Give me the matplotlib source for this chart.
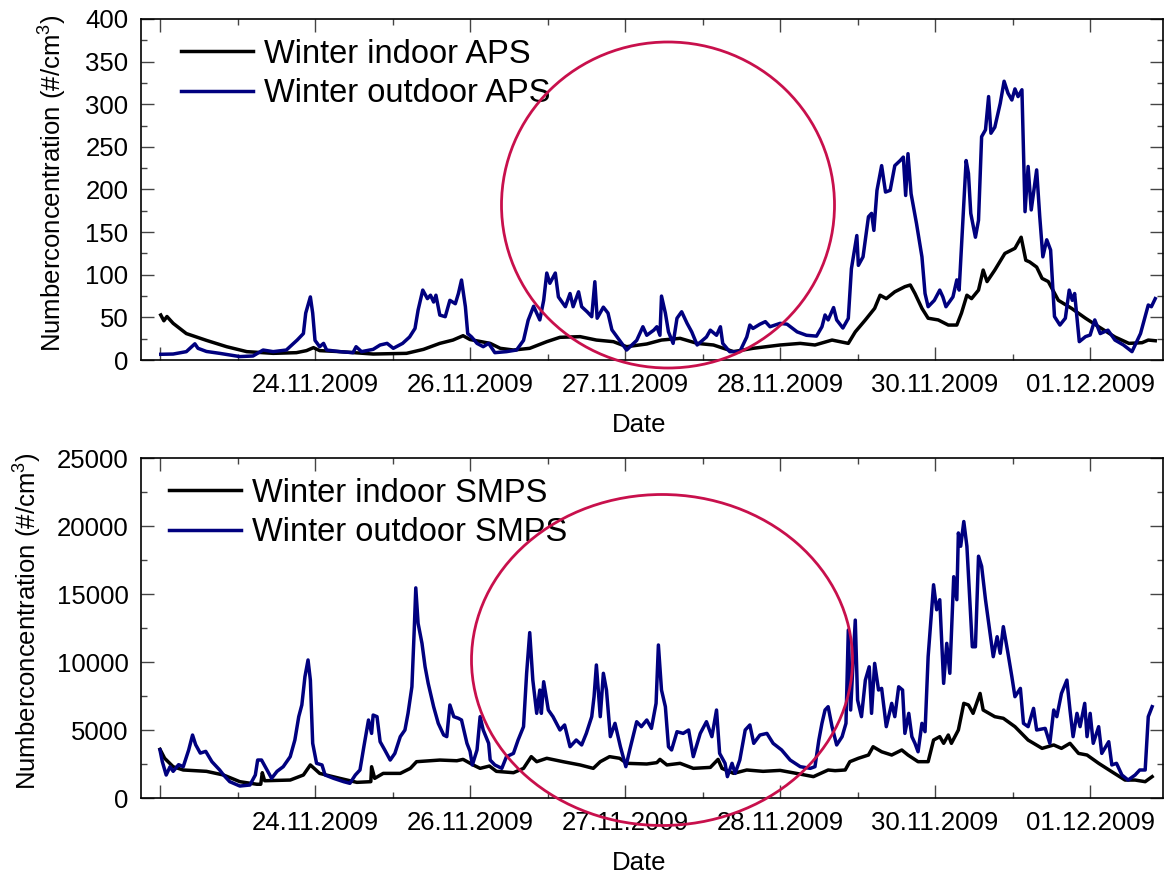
import matplotlib
matplotlib.use('Agg')
import numpy as np
import matplotlib.pyplot as plt
from matplotlib.patches import Ellipse
from matplotlib.ticker import MultipleLocator, FixedLocator

plt.rcParams['font.family'] = ['Liberation Sans', 'DejaVu Sans']
plt.rcParams['mathtext.default'] = 'regular'

# x positions are in tick units (one minor tick = 1)
tick_pos = [0, 2, 4, 6, 8, 10, 12]
tick_labels = ['', '24.11.2009', '26.11.2009', '27.11.2009', '28.11.2009', '30.11.2009', '01.12.2009']

# APS outdoor
aps_out_x = [0.01, 0.17, 0.34, 0.45, 0.49, 0.60, 0.77, 1.03, 1.20, 1.33, 1.46, 1.63, 1.77, 1.85, 1.88, 1.94, 1.97,
             2.00, 2.06, 2.11, 2.15, 2.32, 2.49, 2.53, 2.60, 2.75, 2.84, 2.93, 3.01, 3.13, 3.22, 3.29, 3.33, 3.39,
             3.45, 3.49, 3.53, 3.56, 3.61, 3.68, 3.74, 3.81, 3.85, 3.89, 3.94, 3.97, 4.02, 4.09, 4.17, 4.24, 4.32,
             4.47, 4.60, 4.69, 4.75, 4.82, 4.90, 4.95, 4.99, 5.03, 5.10, 5.14, 5.23, 5.29, 5.33, 5.40, 5.44, 5.51,
             5.57, 5.61, 5.64, 5.72, 5.78, 5.83, 5.91, 6.02, 6.15, 6.23, 6.28, 6.37, 6.41, 6.45, 6.47, 6.52, 6.56,
             6.62, 6.67, 6.73, 6.80, 6.86, 6.93, 7.05, 7.10, 7.18, 7.23, 7.26, 7.35, 7.48, 7.57, 7.61, 7.65, 7.74,
             7.81, 7.87, 8.00, 8.09, 8.22, 8.34, 8.47, 8.54, 8.58, 8.62, 8.69, 8.73, 8.81, 8.88, 8.92, 8.99, 9.01,
             9.07, 9.14, 9.18, 9.21, 9.25, 9.31, 9.36, 9.42, 9.48, 9.55, 9.59, 9.62, 9.65, 9.69, 9.76, 9.83, 9.87,
             9.91, 9.99, 10.06, 10.10, 10.14, 10.23, 10.28, 10.31, 10.34, 10.40, 10.43, 10.46, 10.52, 10.56, 10.60,
             10.65, 10.69, 10.72, 10.77, 10.84, 10.89, 10.94, 10.99, 11.03, 11.07, 11.12, 11.16, 11.20, 11.24,
             11.31, 11.35, 11.39, 11.44, 11.49, 11.54, 11.61, 11.68, 11.73, 11.77, 11.80, 11.86, 11.94, 12.00,
             12.06, 12.13, 12.23, 12.32, 12.43, 12.54, 12.65, 12.75, 12.79, 12.84]
aps_out_y = [6.7, 7, 9.8, 19, 13.7, 10, 7.8, 4, 4.7, 11.7, 9.8, 11.7, 23.4, 31, 55, 74, 55,
             23, 15.6, 19.5, 11.7, 9.8, 8.6, 15.6, 9.8, 12.5, 17.6, 19.5, 13.7, 19.5, 27, 37, 58.6, 82,
             72, 76, 68, 76, 52.7, 50.8, 70, 66, 78, 93.8, 62.5, 31, 27, 19.5, 15.6, 19.5, 8.6,
             9.8, 11.7, 23, 46.7, 63, 47, 70, 102, 90, 102, 74, 62.5, 78, 62.5, 80, 62.5, 56.6,
             50.8, 91.8, 49, 62, 55, 35.4, 25.5, 11.7, 23, 39, 29, 35, 39, 29, 75, 55, 33,
             19.5, 49, 56.6, 43, 33, 17.6, 27, 35, 29, 39, 19.5, 9.8, 9.8, 27, 41, 37, 42,
             45, 39, 43, 42, 33, 29, 28, 39, 52.8, 47, 61.5, 47, 37.5, 48.8, 107, 146, 111,
             121, 168, 172, 152, 199, 228, 197, 199, 228, 234, 238, 193, 242, 195, 160, 121, 78,
             62.5, 70, 82, 74, 62.5, 74, 94, 82, 133, 234, 219, 172, 144, 164, 262,
             270, 309, 266, 273, 301, 327, 313, 305, 318, 309, 317, 174, 227, 176,
             223, 168, 121, 141, 129, 51, 41, 49, 82, 70, 78, 21.5, 27.4, 29.3,
             47, 31, 35, 23.4, 17.6, 9.8, 31, 64.5, 62.5, 72]

# APS indoor
aps_in_x = [0.01, 0.05, 0.09, 0.17, 0.34, 0.60, 0.86, 1.12, 1.46, 1.76, 1.89, 1.98, 2.06, 2.32, 2.75, 3.18, 3.40,
            3.61, 3.78, 3.91, 4.00, 4.26, 4.39, 4.56, 4.77, 4.99, 5.16, 5.42, 5.63, 5.85, 6.02, 6.28, 6.47, 6.71,
            6.93, 7.14, 7.40, 7.65, 8.00, 8.26, 8.45, 8.67, 8.88, 8.97, 9.10, 9.22, 9.29, 9.37, 9.48, 9.61, 9.68,
            9.74, 9.83, 9.91, 10.04, 10.17, 10.28, 10.34, 10.41, 10.47, 10.56, 10.62, 10.67, 10.77, 10.90, 11.03,
            11.11, 11.17, 11.22, 11.31, 11.38, 11.46, 11.59, 11.76, 11.94, 12.11, 12.32, 12.50, 12.67, 12.75, 12.84]
aps_in_y = [52.8, 46, 51, 43, 31, 23, 15.6, 9.8, 7.8, 8.6, 11, 14.5, 11, 9.8, 7, 7.8, 12.5,
            19.5, 23.4, 28.5, 24, 19.5, 13.7, 11.7, 13.7, 21.5, 26.6, 27.4, 23.4, 21.5, 15.6, 18.8, 23.4, 25.4,
            19.5, 17.6, 9.8, 13.7, 17.6, 19.5, 17.6, 23.4, 19.5, 33, 47, 60.6, 76, 72, 80, 86, 88,
            78, 60.6, 49, 47, 41, 41, 55, 76, 72, 82, 105.5, 92, 105.5, 125, 131,
            144, 117, 115, 109, 95.7, 92, 70, 60.6, 49, 39, 27, 19.5, 20.3, 23.4, 22.6]

# SMPS outdoor
smps_out_x = [0.00, 0.03, 0.08, 0.13, 0.17, 0.24, 0.30, 0.37, 0.42, 0.46, 0.52, 0.59, 0.67, 0.77, 0.82, 0.90,
              1.03, 1.16, 1.23, 1.26, 1.31, 1.38, 1.44, 1.51, 1.59, 1.68, 1.74, 1.79, 1.83, 1.87, 1.91, 1.94,
              1.97, 2.02, 2.09, 2.13, 2.24, 2.37, 2.45, 2.52, 2.58, 2.63, 2.69, 2.73, 2.75, 2.80, 2.84, 2.90,
              2.97, 3.03, 3.10, 3.16, 3.20, 3.25, 3.28, 3.30, 3.33, 3.38, 3.42, 3.46, 3.53, 3.59, 3.66, 3.70,
              3.74, 3.79, 3.85, 3.89, 3.96, 4.00, 4.03, 4.09, 4.13, 4.17, 4.24, 4.26, 4.32, 4.41, 4.47, 4.56,
              4.62, 4.69, 4.73, 4.77, 4.81, 4.86, 4.90, 4.92, 4.95, 5.01, 5.07, 5.16, 5.22, 5.29, 5.37, 5.44,
              5.50, 5.57, 5.60, 5.63, 5.68, 5.72, 5.76, 5.81, 5.87, 5.94, 6.01, 6.06, 6.15, 6.21, 6.28, 6.34,
              6.40, 6.43, 6.47, 6.52, 6.56, 6.60, 6.67, 6.75, 6.82, 6.88, 6.97, 7.05, 7.12, 7.18, 7.22, 7.29,
              7.32, 7.38, 7.42, 7.48, 7.55, 7.61, 7.66, 7.74, 7.83, 7.91, 8.02, 8.13, 8.26, 8.39, 8.45, 8.50,
              8.54, 8.58, 8.62, 8.67, 8.73, 8.80, 8.85, 8.88, 8.91, 8.97, 9.00, 9.05, 9.10, 9.15, 9.18, 9.22,
              9.27, 9.31, 9.37, 9.44, 9.48, 9.53, 9.58, 9.61, 9.66, 9.70, 9.74, 9.78, 9.83, 9.87, 9.91, 9.98,
              10.02, 10.06, 10.11, 10.15, 10.19, 10.24, 10.28, 10.30, 10.33, 10.37, 10.41, 10.45, 10.48, 10.52,
              10.56, 10.60, 10.65, 10.71, 10.75, 10.80, 10.84, 10.88, 10.94, 10.99, 11.03, 11.10, 11.14, 11.20,
              11.27, 11.31, 11.42, 11.48, 11.53, 11.57, 11.63, 11.70, 11.74, 11.78, 11.83, 11.87, 11.93, 11.96,
              12.00, 12.04, 12.11, 12.15, 12.24, 12.28, 12.34, 12.41, 12.49, 12.58, 12.64, 12.71, 12.75, 12.80]
smps_out_y = [3529, 2670, 1690, 2303, 1960, 2450, 2303, 3529, 4630, 3920, 3300, 3430, 2670, 2060, 1690, 1200,
              880, 955, 1690, 2793, 2793, 2060, 1445, 1960, 2303, 3040, 4263, 5980, 6840, 8920, 10150, 8670,
              4020, 2550, 2430, 1690, 1445, 1200, 1080, 1690, 2060, 3770, 5735, 4750, 6100, 5980, 4140, 3530,
              2790, 3280, 4510, 5000, 6225, 8180, 12350, 15450, 12840, 11370, 9650, 8430, 6715, 5490, 4630, 4510,
              6840, 5980, 5860, 5735, 4020, 3430, 2430, 3530, 5980, 5000, 4020, 2790, 2430, 2180, 3040, 3280,
              4263, 5245, 9170, 12160, 8670, 6225, 7940, 6225, 8550, 6470, 5980, 5000, 5370, 3770, 4263, 3900,
              4750, 5980, 7450, 9780, 5980, 9170, 7940, 4510, 5490, 3770, 2303, 3530, 5610, 5245, 5735, 5120,
              6960, 11250, 7940, 6715, 3770, 3530, 4875, 4750, 5000, 3040, 4750, 5610, 4510, 6470, 3280, 2550,
              1570, 2550, 1810, 2790, 5000, 5370, 4020, 4630, 4750, 4020, 3530, 2790, 2303, 2180, 2303, 4263,
              5490, 6470, 6715, 5245, 3900, 4510, 5490, 12350, 6470, 13080, 7200, 5980, 8670, 9650, 6225, 9900,
              7940, 8060, 5245, 6960, 5980, 8180, 7940, 4750, 6225, 4510, 4020, 3400, 5490, 4875, 10390, 15680,
              13840, 14580, 8430, 11370, 9170, 16270, 14580, 19490, 18510, 20330, 18510, 14340, 11120, 11120,
              17780, 17040, 14580, 12100, 10390, 11860, 10640, 12600, 10640, 8920, 7450, 8060, 5490, 5245,
              6590, 5000, 5120, 4020, 6470, 5980, 7690, 8670, 6470, 4510, 6225, 5245, 6960, 4510,
              6225, 4020, 5245, 3280, 4140, 2430, 2550, 1690, 1320, 1690, 2060, 2060, 5980, 6715]

# SMPS indoor
smps_in_x = [0.00, 0.06, 0.17, 0.30, 0.60, 0.82, 1.03, 1.25, 1.30, 1.32, 1.35, 1.68, 1.85, 1.94, 2.06, 2.32,
             2.54, 2.72, 2.73, 2.77, 2.88, 3.10, 3.23, 3.31, 3.61, 3.83, 3.91, 4.04, 4.13, 4.25, 4.34, 4.56,
             4.69, 4.79, 4.86, 4.99, 5.20, 5.42, 5.59, 5.68, 5.80, 5.93, 6.02, 6.28, 6.41, 6.45, 6.54, 6.71,
             6.88, 7.10, 7.20, 7.25, 7.40, 7.57, 7.78, 8.00, 8.21, 8.43, 8.62, 8.71, 8.84, 8.90, 9.01, 9.14,
             9.20, 9.31, 9.44, 9.57, 9.65, 9.78, 9.91, 9.98, 10.06, 10.11, 10.17, 10.21, 10.30, 10.37, 10.43,
             10.49, 10.58, 10.62, 10.77, 10.88, 11.03, 11.20, 11.38, 11.53, 11.63, 11.74, 11.85, 11.96, 12.11,
             12.28, 12.45, 12.58, 12.71, 12.80]
smps_in_y = [3580, 2920, 2300, 2060, 1960, 1690, 1200, 1010, 1010, 1860, 1270, 1320, 1690, 2430, 1810, 1445,
             1150, 1200, 2300, 1445, 1810, 1810, 2180, 2670, 2790, 2740, 2840, 2430, 2180, 2350, 1960, 1860,
             2180, 3040, 2670, 2920, 2670, 2430, 2180, 2670, 3040, 2920, 2550, 2500, 2600, 2840, 2430, 2550,
             2180, 2250, 2840, 2180, 1810, 2060, 1960, 2030, 1810, 1570, 2060, 2010, 2060, 2670, 2920, 3160,
             3770, 3400, 3160, 3530, 3160, 2670, 2670, 4260, 4510, 4020, 4630, 4020, 5000, 6960, 6840,
             6225, 7690, 6470, 5980, 5860, 5245, 4260, 3650, 3900, 3650, 4020, 3280, 3160, 2550,
             1930, 1320, 1320, 1200, 1570]

W, H = 1165, 873
fig = plt.figure(figsize=(W / 100, H / 100), dpi=100)
ax1 = fig.add_axes([141 / W, 1 - 360 / H, 1022 / W, 341 / H])
ax2 = fig.add_axes([141 / W, 1 - 798 / H, 1022 / W, 340 / H])

blue = '#00007f'
panels = [
    (ax1, aps_in_x, aps_in_y, aps_out_x, aps_out_y, 'APS', 400, 50, 25, -0.070),
    (ax2, smps_in_x, smps_in_y, smps_out_x, smps_out_y, 'SMPS', 25000, 5000, 2500, -0.095),
]
for ax, xi, yi, xo, yo, name, ymax, maj, mnr, ylx in panels:
    ax.plot(xi, yi, color='black', lw=2.5, label='Winter indoor ' + name)
    ax.plot(xo, yo, color=blue, lw=2.5, label='Winter outdoor ' + name)
    ax.set_xlim(-0.245, 12.94)
    ax.set_ylim(0, ymax)
    ax.xaxis.set_major_locator(FixedLocator(tick_pos))
    ax.set_xticklabels(tick_labels)
    ax.xaxis.set_minor_locator(MultipleLocator(1))
    ax.yaxis.set_major_locator(MultipleLocator(maj))
    ax.yaxis.set_minor_locator(MultipleLocator(mnr))
    ax.tick_params(which='both', direction='in', top=True, right=True, labelsize=18.5, width=1, color='#444444')
    ax.tick_params(which='major', length=9.5, pad=9)
    ax.tick_params(which='minor', length=4.5)
    for sp in ax.spines.values():
        sp.set_linewidth(1.2)
    ax.set_xlabel('Date', fontsize=18.5)
    ax.xaxis.set_label_coords(0.487, -0.155)
    ax.set_ylabel('Numberconcentration (#/cm$^{3}$)', fontsize=18.5)
    ax.yaxis.set_label_coords(ylx, 0.52)

ax1.legend(loc='upper left', bbox_to_anchor=(0.02, 1.0), frameon=False, fontsize=23.5,
           handlelength=2.2, handletextpad=0.35, labelspacing=0.26, borderaxespad=0.2)
ax2.legend(loc='upper left', bbox_to_anchor=(0.008, 1.0), frameon=False, fontsize=23.5,
           handlelength=2.2, handletextpad=0.35, labelspacing=0.26, borderaxespad=0.2)

# highlight circles
red = '#c8104c'
for cx, cy, w, h in [(668, 205, 333, 326), (662, 660, 381, 331)]:
    fig.add_artist(Ellipse((cx / W, 1 - cy / H), w / W, h / H, transform=fig.transFigure,
                           fill=False, ec=red, lw=2))

fig.savefig('out.png', dpi=100)
